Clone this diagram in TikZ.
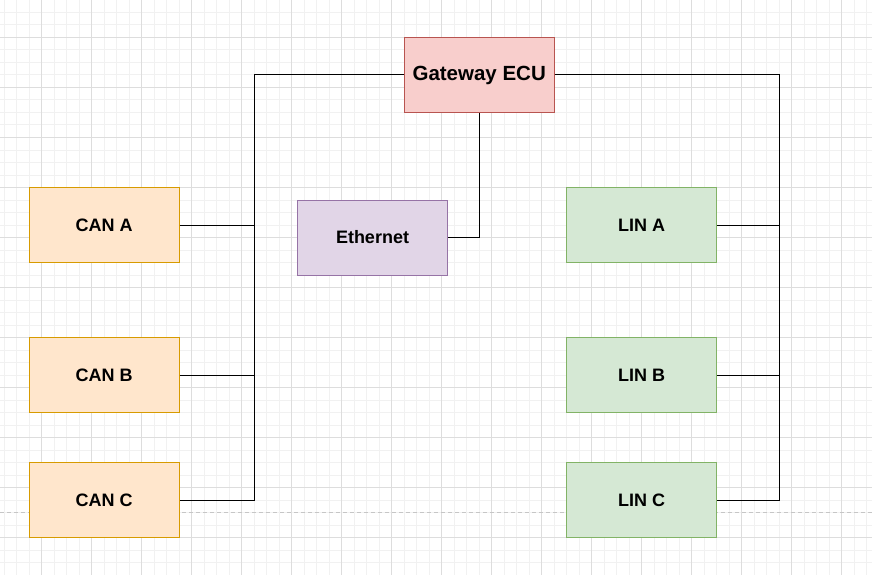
\documentclass[tikz,border=0pt]{standalone}
\usepackage{fontspec}
\setmainfont{Liberation Sans}
\usetikzlibrary{positioning}

\definecolor{gridminor}{HTML}{F1F1F1}
\definecolor{gridmajor}{HTML}{DDDDDD}
\definecolor{pagebreak}{HTML}{C6C6C6}
\definecolor{canfill}{HTML}{FFE6CC}
\definecolor{candraw}{HTML}{D79B00}
\definecolor{gwfill}{HTML}{F8CECC}
\definecolor{gwdraw}{HTML}{B85450}
\definecolor{ethfill}{HTML}{E1D5E7}
\definecolor{ethdraw}{HTML}{9673A6}
\definecolor{linfill}{HTML}{D5E8D4}
\definecolor{lindraw}{HTML}{82B366}

\tikzset{
    busbox/.style={draw, line width=1pt, minimum width=150pt, minimum height=75pt,
        inner sep=0pt, font=\fontsize{18}{20}\selectfont\bfseries},
    canbox/.style={busbox, fill=canfill, draw=candraw},
    linbox/.style={busbox, fill=linfill, draw=lindraw},
    ethbox/.style={busbox, fill=ethfill, draw=ethdraw},
    gwbox/.style={busbox, fill=gwfill, draw=gwdraw, font=\fontsize{20.5}{22}\selectfont\bfseries},
    wire/.style={draw=black, line width=1pt}
}

\begin{document}
\begin{tikzpicture}[x=1pt, y=-1pt]
    \useasboundingbox (0,0) rectangle (872,575);

    % Draw background grid
    \foreach \i in {0,1,...,69} {
        \pgfmathsetmacro{\xcoord}{4.17+\i*12.5}
        \draw[gridminor, line width=1pt] (\xcoord,0) -- (\xcoord,575);
    }
    \foreach \i in {0,1,...,46} {
        \pgfmathsetmacro{\ycoord}{\i*12.5}
        \draw[gridminor, line width=1pt] (0,\ycoord) -- (872,\ycoord);
    }
    \foreach \i in {0,1,...,16} {
        \pgfmathsetmacro{\xcoord}{41.67+\i*50}
        \draw[gridmajor, line width=1pt] (\xcoord,0) -- (\xcoord,575);
    }
    \foreach \i in {0,1,...,10} {
        \pgfmathsetmacro{\ycoord}{37.5+\i*50}
        \draw[gridmajor, line width=1pt] (0,\ycoord) -- (872,\ycoord);
    }

    % Page break
    \draw[pagebreak, line width=1pt, dash pattern=on 4pt off 3pt] (0,512.5) -- (872,512.5);

    % Draw nodes
    \node[gwbox] (gw) at (479.2,75) {Gateway ECU};
    \node[ethbox] (eth) at (372.5,237.5) {Ethernet};
    \node[canbox] (cana) at (104.2,225) {CAN A};
    \node[canbox] (canb) at (104.2,375) {CAN B};
    \node[canbox] (canc) at (104.2,500) {CAN C};
    \node[linbox] (lina) at (641.7,225) {LIN A};
    \node[linbox] (linb) at (641.7,375) {LIN B};
    \node[linbox] (linc) at (641.7,500) {LIN C};

    % Bus corners
    \coordinate (canbus) at (254.2,75);
    \coordinate (linbus) at (779.2,75);

    % Draw connections
    \draw[wire] (gw.west) -- (canbus) |- (canc.east);
    \draw[wire] (cana.east) -- (cana.east -| canbus);
    \draw[wire] (canb.east) -- (canb.east -| canbus);
    \draw[wire] (gw.east) -- (linbus) |- (linc.east);
    \draw[wire] (lina.east) -- (lina.east -| linbus);
    \draw[wire] (linb.east) -- (linb.east -| linbus);
    \draw[wire] (gw.south) |- (eth.east);
\end{tikzpicture}
\end{document}
